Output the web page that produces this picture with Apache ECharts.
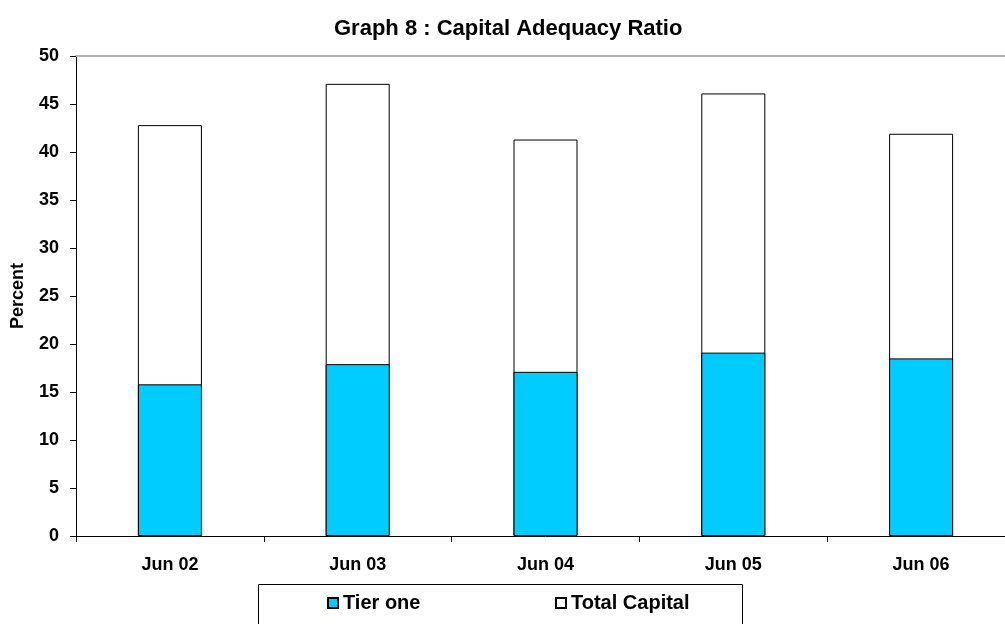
<!DOCTYPE html>
<html>
<head>
<meta charset="utf-8">
<script src="https://cdn.jsdelivr.net/npm/echarts@6/dist/echarts.min.js"></script>
<style>
  html, body { margin: 0; padding: 0; background: #fff; overflow: hidden; }
  /* the plot area runs slightly past the right edge of the page */
  #chart { width: 1018px; height: 624px; }
</style>
</head>
<body>
<div id="chart"></div>
<script>
// Capital adequacy ratio, June of each year (percent)
const categories = ['Jun 02', 'Jun 03', 'Jun 04', 'Jun 05', 'Jun 06'];
const tierOne = [15.8, 17.9, 17.1, 19.1, 18.5];
const totalCapital = [42.8, 47.1, 41.3, 46.1, 41.9];
const yTicks = { min: 0, max: 50, interval: 5 };

const FONT = '"Liberation Sans", Arial, sans-serif';

const chart = echarts.init(document.getElementById('chart'), null, { renderer: 'canvas' });

chart.setOption({
  backgroundColor: '#ffffff',
  animation: false,
  title: {
    text: 'Graph 8 : Capital Adequacy Ratio',
    left: 329,
    top: 13,
    textStyle: { fontFamily: FONT, fontWeight: 'bold', fontSize: 22, color: '#000' }
  },
  grid: { left: 76, top: 56, width: 939, height: 480 },
  legend: [
    {
      data: ['Tier one'],
      left: 322, top: 588,
      icon: 'rect', itemWidth: 10, itemHeight: 10,
      selectedMode: false,
      textStyle: { fontFamily: FONT, fontWeight: 'bold', fontSize: 20, color: '#000' }
    },
    {
      data: ['Total Capital'],
      left: 550, top: 588,
      icon: 'rect', itemWidth: 10, itemHeight: 10,
      selectedMode: false,
      textStyle: { fontFamily: FONT, fontWeight: 'bold', fontSize: 20, color: '#000' }
    }
  ],
  graphic: [
    {
      type: 'rect', z: -1,
      shape: { x: 258.5, y: 584.5, width: 484, height: 60 },
      style: { fill: '#fff', stroke: '#000', lineWidth: 1 }
    }
  ],
  xAxis: [
    {
      type: 'category',
      data: categories,
      axisLine: { lineStyle: { color: '#000', width: 1 } },
      axisTick: { show: true, length: 6, lineStyle: { color: '#000' } },
      axisLabel: {
        margin: 20,
        fontFamily: FONT, fontWeight: 'bold', fontSize: 18, color: '#000'
      },
      splitLine: { show: false }
    },
    {
      // top border of the plot area
      type: 'category',
      data: categories,
      position: 'top',
      axisLine: { lineStyle: { color: '#b4b4b4', width: 2 } },
      axisTick: { show: false },
      axisLabel: { show: false },
      splitLine: { show: false }
    }
  ],
  yAxis: {
    type: 'value',
    min: yTicks.min, max: yTicks.max, interval: yTicks.interval,
    name: 'Percent',
    nameLocation: 'middle',
    nameGap: 49,
    nameRotate: 90,
    nameTextStyle: { fontFamily: FONT, fontWeight: 'bold', fontSize: 18, color: '#000' },
    axisLine: { show: true, lineStyle: { color: '#000', width: 1 } },
    axisTick: { show: true, length: 6, lineStyle: { color: '#000' } },
    axisLabel: {
      margin: 17,
      fontFamily: FONT, fontWeight: 'bold', fontSize: 18, color: '#000'
    },
    splitLine: { show: false }
  },
  series: [
    {
      name: 'Total Capital',
      type: 'bar',
      data: totalCapital,
      barWidth: 64,
      barGap: '-100%',
      itemStyle: { color: '#ffffff', borderColor: '#000', borderWidth: 1 },
      z: 2
    },
    {
      name: 'Tier one',
      type: 'bar',
      data: tierOne,
      barWidth: 64,
      barGap: '-100%',
      itemStyle: { color: '#00ccff', borderColor: '#000', borderWidth: 1 },
      z: 3
    }
  ]
});
</script>
</body>
</html>
